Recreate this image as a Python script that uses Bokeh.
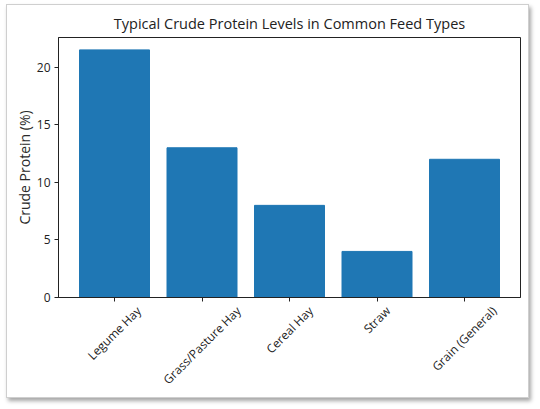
import math
from bokeh.plotting import figure
from bokeh.models import Range1d, FixedTicker, ColumnDataSource, LinearAxis
from bokeh.embed import file_html
from bokeh.resources import INLINE

categories = ["Legume Hay", "Grass/Pasture Hay", "Cereal Hay", "Straw", "Grain (General)"]
protein = [21.5, 13.0, 8.0, 4.0, 12.0]
y_ticks = [0, 5, 10, 15, 20]

FONT = "Open Sans"
TICK_PX = 12
LABEL_PX = 14
FRAME_W = 462
X_PAD = 0.64

xs = list(range(len(categories)))
x_lo, x_hi = -X_PAD, len(categories) - 1 + X_PAD

# approximate Open Sans advance widths (em): used to centre the rotated labels on
# their ticks, as matplotlib does (Bokeh anchors the end of a rotated label).
W = {" ": .26, "a": .556, "e": .561, "g": .55, "m": .855, "u": .614, "y": .50, "H": .742,
     "L": .524, "r": .408, "s": .477, "/": .365, "P": .604, "t": .353, "C": .635, "l": .253,
     "S": .541, "w": .771, "G": .726, "i": .253, "n": .614, "(": .275, ")": .275, "c": .476,
     "o": .604, "d": .614}
s45 = math.sin(math.pi / 4)
px_per_x = FRAME_W / (x_hi - x_lo)
label_pos = []
for x, c in zip(xs, categories):
    w = sum(W.get(ch, .55) for ch in c) * TICK_PX
    label_pos.append(round(x + (w / 2) * s45 / px_per_x, 4))

src = ColumnDataSource(dict(x=xs, top=protein))

p = figure(
    width=523, height=394,
    x_range=Range1d(x_lo, x_hi),
    y_range=Range1d(0, max(protein) * 1.05),
    output_backend="svg", toolbar_location=None,
    title="Typical Crude Protein Levels in Common Feed Types",
    min_border_left=51, min_border_right=10, min_border_top=32, min_border_bottom=102,
    margin=(4, 0, 0, 6),
    styles={"border": "1px solid #cfcfcf", "box-shadow": "2px 3px 4px rgba(0,0,0,0.35)"},
)
p.vbar(x="x", top="top", width=0.8, source=src, color="#1f77b4")

p.title.align = "center"
p.title.text_font = FONT
p.title.text_font_size = "14.5px"
p.title.text_font_style = "normal"
p.title.text_color = "#222222"

p.xgrid.visible = False
p.ygrid.visible = False
p.outline_line_color = "#222222"
p.outline_line_width = 1

# primary x axis: tick marks only
p.xaxis.ticker = FixedTicker(ticks=xs)
p.xaxis.major_label_text_font_size = "0px"
p.xaxis.major_label_text_color = None
p.xaxis.major_label_standoff = 0

p.yaxis.ticker = FixedTicker(ticks=y_ticks)
p.yaxis.axis_label = "Crude Protein (%)"
p.yaxis.axis_label_standoff = 0
p.yaxis.major_label_standoff = 4

for ax in (p.xaxis, p.yaxis):
    ax.major_label_text_font = FONT
    ax.axis_label_text_font = FONT
    ax.axis_label_text_font_size = f"{LABEL_PX}px"
    ax.axis_label_text_font_style = "normal"
    ax.axis_label_text_color = "#2a2a2a"
    ax.axis_line_color = "#222222"
    ax.major_tick_line_color = "#222222"
    ax.major_tick_in = 0
    ax.major_tick_out = 4
    ax.minor_tick_line_color = None
p.yaxis.major_label_text_font_size = f"{TICK_PX}px"
p.yaxis.major_label_text_color = "#222222"

# second x axis: rotated category labels
lab_axis = LinearAxis(
    ticker=FixedTicker(ticks=label_pos),
    major_label_overrides={pos: c for pos, c in zip(label_pos, categories)},
    major_label_orientation=math.pi / 4,
    major_label_standoff=7,
    major_label_text_font=FONT,
    major_label_text_font_size=f"{TICK_PX}px",
    major_label_text_color="#222222",
    axis_line_color=None,
    major_tick_line_color=None,
    minor_tick_line_color=None,
    major_tick_in=0, major_tick_out=0,
)
p.add_layout(lab_axis, "below")

open("out.html", "w").write(file_html(p, INLINE))
